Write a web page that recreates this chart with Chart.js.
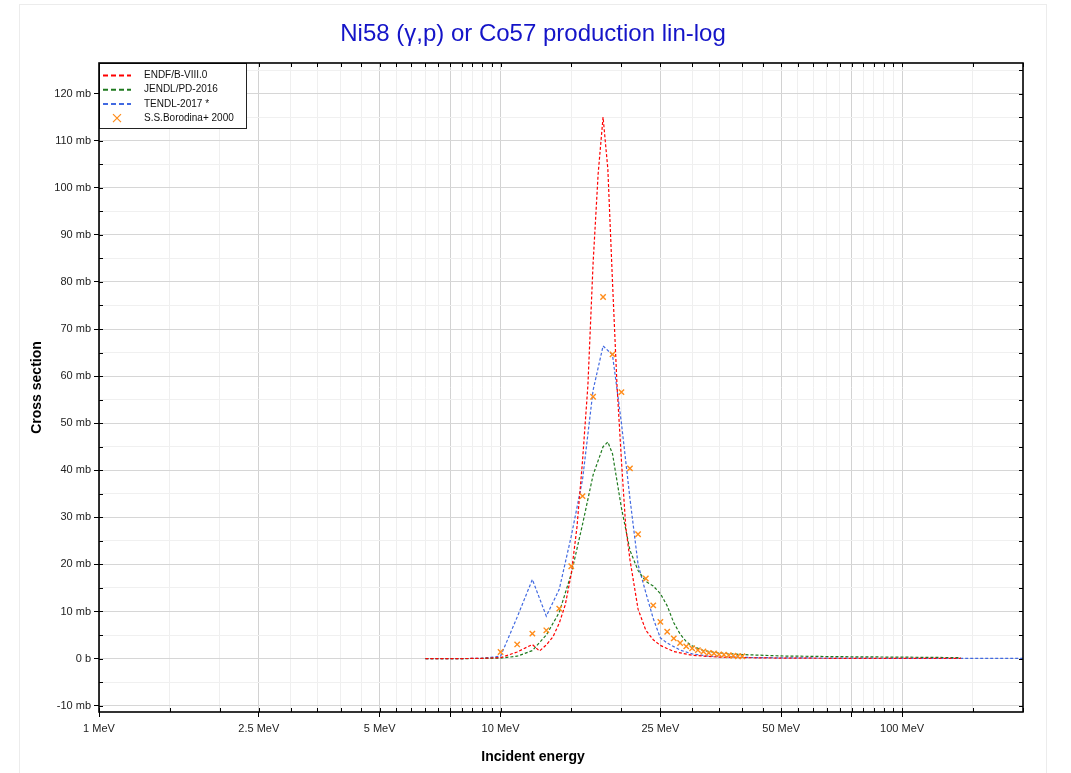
<!DOCTYPE html>
<html>
<head>
<meta charset="utf-8">
<script src="https://cdn.jsdelivr.net/npm/chart.js@4.4.1/dist/chart.umd.min.js"></script>
<style>
  html, body { margin: 0; padding: 0; background: #fff; }
</style>
</head>
<body>
<canvas id="chart" width="1071" height="773"></canvas>
<script>
// Ni58 (g,p) cross sections, energy in MeV, cross section in mb
const endfE  = [6.5, 8, 9, 10, 11, 12, 12.5, 13, 13.5, 14, 14.5, 15, 15.5, 16, 16.5, 17, 17.5, 18, 18.5, 19, 19.5, 20, 20.5, 21, 22, 23, 24, 25, 27, 30, 35, 40, 50, 70, 100, 140];
const endfXS = [0, 0, 0.05, 0.2, 1.4, 3.0, 1.6, 2.9, 4.6, 7.5, 11.5, 18, 28, 42, 58, 84, 103, 115, 104, 80, 58, 42, 28, 21, 10.5, 6, 4.0, 2.8, 1.5, 0.7, 0.3, 0.2, 0.1, 0.05, 0.03, 0.02];

const jendlE  = [6.5, 8, 9, 10, 11, 12, 13, 14, 15, 16, 17, 18, 18.5, 19, 20, 21, 22, 23, 24, 25, 26, 27, 28, 29, 30, 32, 35, 40, 50, 70, 100, 140];
const jendlXS = [0, 0, 0.02, 0.1, 0.5, 1.7, 5.0, 9.8, 18, 28.5, 39, 45, 46, 43.5, 32, 23, 18.7, 16.4, 15.4, 13.8, 11.2, 7.6, 5.2, 3.6, 2.7, 1.7, 1.2, 0.85, 0.55, 0.4, 0.3, 0.2];

const tendlE  = [6.5, 8, 9, 10, 11, 12, 13, 14, 15, 16, 17, 18, 19, 20, 21, 22, 23, 24, 25, 26, 28, 30, 33, 40, 50, 70, 100, 150, 200];
const tendlXS = [0, 0, 0.05, 0.5, 8.8, 16.8, 9.0, 14.7, 26, 38, 57, 66.4, 64.5, 50, 34, 20, 14, 8.5, 4.4, 3.3, 1.8, 1.0, 0.5, 0.25, 0.15, 0.1, 0.05, 0.03, 0.02];

const expE  = [10, 11, 12, 13, 14, 15, 16, 17, 18, 19, 20, 21, 22, 23, 24, 25, 26, 27, 28, 29, 30, 31, 32, 33, 34, 35, 36, 37, 38, 39, 40];
const expXS = [1.4, 3.0, 5.3, 6.0, 10.6, 19.6, 34.5, 55.6, 76.8, 64.6, 56.6, 40.4, 26.4, 17.0, 11.3, 7.8, 5.7, 4.3, 3.3, 2.6, 2.2, 1.8, 1.5, 1.2, 1.1, 0.9, 0.8, 0.7, 0.6, 0.5, 0.5];

const seriesNames = ['ENDF/B-VIII.0', 'JENDL/PD-2016', 'TENDL-2017 *', 'S.S.Borodina+ 2000'];
const seriesColors = ['#ff0000', '#1f7a1f', '#4169e1', '#ff8c1a'];

// axis ticks
const xTickValues = [1, 1.5, 2, 2.5, 3, 3.5, 4, 4.5, 5, 5.5, 6, 6.5, 7, 7.5, 8, 8.5, 9, 9.5,
  10, 15, 20, 25, 30, 35, 40, 45, 50, 55, 60, 65, 70, 75, 80, 85, 90, 95, 100, 150, 200];
const xMajor = [1, 2.5, 5, 7.5, 10, 25, 50, 75, 100];
const xLabelValues = [1, 2.5, 5, 10, 25, 50, 100];
const xLabels = ['1 MeV', '2.5 MeV', '5 MeV', '10 MeV', '25 MeV', '50 MeV', '100 MeV'];
const yTickValues = [-10, -5, 0, 5, 10, 15, 20, 25, 30, 35, 40, 45, 50, 55, 60, 65, 70, 75, 80, 85, 90, 95, 100, 105, 110, 115, 120, 125];

const FONT = '"Liberation Sans", Arial, sans-serif';
const near = (list, v) => list.findIndex(t => Math.abs(t - v) < 1e-6);
const pts = (xs, ys) => xs.map((x, i) => ({ x, y: ys[i] }));

function lineSet(i, xs, ys) {
  return {
    label: seriesNames[i],
    data: pts(xs, ys),
    showLine: true,
    borderColor: seriesColors[i],
    borderWidth: 1.2,
    borderDash: [3, 2],
    pointRadius: 0,
    fill: false,
    order: i,
  };
}

const framePlugin = {
  id: 'frame',
  beforeDraw(chart) {
    const ctx = chart.ctx;
    ctx.save();
    ctx.fillStyle = '#fff';
    ctx.fillRect(0, 0, chart.width, chart.height);
    ctx.strokeStyle = '#ececec';
    ctx.lineWidth = 1;
    ctx.strokeRect(19.5, 4.5, 1027, 800);
    ctx.fillStyle = '#1414c8';
    ctx.font = '24px ' + FONT;
    ctx.textAlign = 'center';
    ctx.textBaseline = 'middle';
    ctx.fillText('Ni58 (\u03b3,p) or Co57 production lin-log', 533, 34);
    ctx.fillStyle = '#000';
    ctx.font = 'bold 14px ' + FONT;
    ctx.fillText('Incident energy', 533, 757);
    ctx.restore();
  },
  afterDraw(chart) {
    const ctx = chart.ctx;
    const a = chart.chartArea;
    const xs = chart.scales.x, ys = chart.scales.y;
    ctx.save();
    // inward tick marks on all four sides
    ctx.strokeStyle = '#000';
    ctx.lineWidth = 1;
    ctx.beginPath();
    xs.ticks.forEach(t => {
      const p = Math.round(xs.getPixelForValue(t.value)) + 0.5;
      ctx.moveTo(p, a.bottom); ctx.lineTo(p, a.bottom - 4);
      ctx.moveTo(p, a.top); ctx.lineTo(p, a.top + 4);
    });
    ys.ticks.forEach(t => {
      const p = Math.round(ys.getPixelForValue(t.value)) + 0.5;
      ctx.moveTo(a.left, p); ctx.lineTo(a.left + 4, p);
      ctx.moveTo(a.right, p); ctx.lineTo(a.right - 4, p);
    });
    ctx.stroke();

    // legend
    const lx = a.left, ly = a.top, lw = 147, lh = 65;
    ctx.fillStyle = '#fff';
    ctx.fillRect(lx, ly, lw, lh);
    ctx.font = '10px ' + FONT;
    ctx.textAlign = 'left';
    ctx.textBaseline = 'middle';
    seriesNames.forEach((name, i) => {
      const y = ly + 12.5 + i * 14.2;
      ctx.strokeStyle = seriesColors[i];
      if (i < 3) {
        ctx.lineWidth = 2;
        ctx.setLineDash([5, 3]);
        ctx.beginPath();
        ctx.moveTo(lx + 4, y); ctx.lineTo(lx + 32, y);
        ctx.stroke();
        ctx.setLineDash([]);
      } else {
        ctx.lineWidth = 1.2;
        ctx.beginPath();
        ctx.moveTo(lx + 14, y - 4); ctx.lineTo(lx + 22, y + 4);
        ctx.moveTo(lx + 22, y - 4); ctx.lineTo(lx + 14, y + 4);
        ctx.stroke();
      }
      ctx.fillStyle = '#111';
      ctx.fillText(name, lx + 45, y);
    });
    ctx.strokeStyle = '#222';
    ctx.lineWidth = 1;
    ctx.strokeRect(lx + 0.5, ly + 0.5, lw, lh);

    // plot border
    ctx.strokeStyle = '#000';
    ctx.lineWidth = 1.6;
    ctx.strokeRect(a.left, a.top, a.right - a.left, a.bottom - a.top);
    ctx.restore();
  }
};

new Chart(document.getElementById('chart'), {
  type: 'scatter',
  data: {
    datasets: [
      lineSet(0, endfE, endfXS),
      lineSet(1, jendlE, jendlXS),
      lineSet(2, tendlE, tendlXS),
      {
        label: seriesNames[3],
        data: pts(expE, expXS),
        pointStyle: 'crossRot',
        pointRadius: 3.8,
        borderColor: seriesColors[3],
        backgroundColor: seriesColors[3],
        borderWidth: 1.4,
        order: -1,
      },
    ],
  },
  options: {
    responsive: false,
    animation: false,
    layout: { padding: { left: 19, right: 48, top: 63, bottom: 0 } },
    plugins: { legend: { display: false }, tooltip: { enabled: false }, title: { display: false } },
    scales: {
      x: {
        type: 'logarithmic',
        min: 1,
        max: 200,
        afterBuildTicks: s => { s.ticks = xTickValues.map(v => ({ value: v })); },
        afterFit: s => { s.height = 61; },
        border: { display: false },
        grid: {
          color: c => (c.tick && near(xMajor, c.tick.value) >= 0) ? '#d2d2d2' : '#efefef',
          tickColor: c => (c.tick && near(xMajor, c.tick.value) >= 0) ? '#000' : 'rgba(0,0,0,0)',
          tickLength: 5,
          lineWidth: 1,
        },
        ticks: {
          autoSkip: false,
          maxRotation: 0,
          padding: 5,
          color: '#222',
          font: { family: FONT, size: 11 },
          callback: v => { const k = near(xLabelValues, v); return k >= 0 ? xLabels[k] : ''; },
        },
      },
      y: {
        type: 'linear',
        min: -11.35,
        max: 126.5,
        afterBuildTicks: s => { s.ticks = yTickValues.map(v => ({ value: v })); },
        afterFit: s => { s.width = 80; },
        border: { display: false },
        grid: {
          color: c => (c.tick && c.tick.value % 10 === 0) ? '#d6d6d6' : '#f0f0f0',
          tickColor: c => (c.tick && c.tick.value % 10 === 0) ? '#000' : 'rgba(0,0,0,0)',
          tickLength: 5,
          lineWidth: 1,
        },
        ticks: {
          autoSkip: false,
          padding: 3,
          color: '#222',
          font: { family: FONT, size: 11 },
          callback: v => v % 10 !== 0 ? '' : (v === 0 ? '0 b' : v + ' mb'),
        },
        title: {
          display: true,
          text: 'Cross section',
          color: '#000',
          font: { family: FONT, size: 14, weight: 'bold' },
          padding: { top: 10, bottom: 0 },
        },
      },
    },
  },
  plugins: [framePlugin],
});
</script>
</body>
</html>
